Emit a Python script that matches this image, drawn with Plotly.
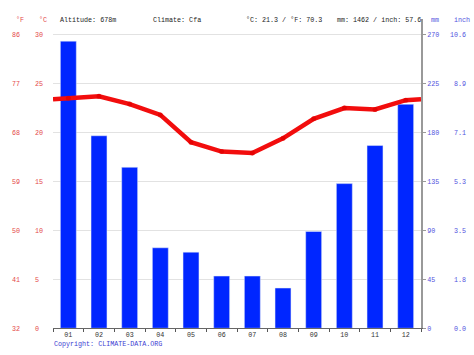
import plotly.graph_objects as go

months = ["01", "02", "03", "04", "05", "06", "07", "08", "09", "10", "11", "12"]
precip_mm = [264, 177, 148, 74, 70, 48, 48, 37, 89, 133, 168, 206]
temp_c = [23.5, 23.7, 22.9, 21.8, 19.0, 18.05, 17.9, 19.4, 21.4, 22.5, 22.35, 23.3]
c_ticks = [0, 5, 10, 15, 20, 25, 30]
f_ticks = [32, 41, 50, 59, 68, 77, 86]
mm_ticks = [0, 45, 90, 135, 180, 225, 270]
inch_labels = [f"{v / 25.4:.1f}" for v in mm_ticks]

header_left = "Altitude: 678m"
header_climate = "Climate: Cfa"
header_temp = "°C: 21.3 / °F: 70.3"
header_precip = "mm: 1462 / inch: 57.6"

W, H = 474, 355
PL, PR, PT, PB, PTOP = 53, 421, 35, 332, 19
ext = (PB - PTOP) / (PB - PT)

xs = list(range(1, 13))
edge = (temp_c[0] + temp_c[-1]) / 2
line_x = [0.5] + xs + [12.5]
line_y = [edge] + temp_c + [edge]
msize = [0] + [5] * 12 + [0]

MONO = "Liberation Mono, DejaVu Sans Mono, monospace"
FS = 6.7
RED = "rgb(228,72,72)"
BLUE = "rgb(82,82,222)"

fig = go.Figure()
fig.add_trace(go.Bar(x=xs, y=precip_mm, marker_color="#0026ff", width=0.52,
                     yaxis="y", showlegend=False, hoverinfo="skip"))
fig.add_trace(go.Scatter(x=line_x, y=line_y, mode="lines+markers", yaxis="y2",
                         line=dict(color="#f20d0d", width=4.5),
                         marker=dict(size=msize, color="#e00000", line=dict(width=0)),
                         showlegend=False, hoverinfo="skip"))
fig.add_trace(go.Scatter(x=[None], y=[None], yaxis="y3", showlegend=False))
fig.add_trace(go.Scatter(x=[None], y=[None], yaxis="y4", showlegend=False))

ydom = [(H - PB) / H, (H - PTOP) / H]
fig.update_layout(
    width=W, height=H, autosize=False,
    margin=dict(l=0, r=0, t=0, b=0),
    paper_bgcolor="white", plot_bgcolor="white",
    font=dict(family=MONO, size=FS),
    xaxis=dict(domain=[PL / W, PR / W], range=[0.5, 12.5],
               tickvals=xs, ticktext=months, ticks="",
               tickfont=dict(color="#333", size=FS, family=MONO),
               showline=True, linecolor="#666", linewidth=1,
               showgrid=False, zeroline=False,
               minor=dict(ticks="outside", tick0=0.5, dtick=1, ticklen=3, tickcolor="#555")),
    yaxis=dict(domain=ydom, side="right", range=[0, 270 * ext],
               tickvals=mm_ticks, ticks="outside", ticklen=3, tickcolor="#999",
               showline=True, linecolor="#999", linewidth=2,
               showgrid=True, gridcolor="#e2e2e2", gridwidth=1, zeroline=False,
               tickfont=dict(color=BLUE, size=FS, family=MONO)),
    yaxis2=dict(overlaying="y", anchor="free", side="right", position=34 / W,
                range=[0, 30 * ext], tickvals=c_ticks,
                showgrid=False, zeroline=False, showline=False, ticks="",
                tickfont=dict(color=RED, size=FS, family=MONO)),
    yaxis3=dict(overlaying="y", anchor="free", side="right", position=11 / W,
                range=[32, 32 + 54 * ext], tickvals=f_ticks,
                showgrid=False, zeroline=False, showline=False, ticks="",
                tickfont=dict(color=RED, size=FS, family=MONO)),
    yaxis4=dict(overlaying="y", anchor="free", side="left", position=466 / W,
                range=[0, 270 * ext], tickvals=mm_ticks,
                ticktext=inch_labels,
                showgrid=False, zeroline=False, showline=False, ticks="",
                tickfont=dict(color=BLUE, size=FS, family=MONO)),
)

def ann(text, x, y, color, xanchor="left"):
    fig.add_annotation(text=text, x=x / W, y=1 - y / H, xref="paper", yref="paper",
                       xanchor=xanchor, yanchor="middle", showarrow=False,
                       font=dict(family=MONO, size=FS, color=color))

ann("°F", 14, 20, RED)
ann("°C", 37, 20, RED)
ann("mm", 429, 20, BLUE)
ann("inch", 452, 20, BLUE)
ann(header_left, 58, 20, "#222")
ann(header_climate, 151, 20, "#222")
ann(header_temp, 244, 20, "#222")
ann(header_precip, 335, 20, "#222")
ann("Copyright: CLIMATE-DATA.ORG", 52, 348, "rgb(60,60,210)")

fig.write_html("out.html", config={"displayModeBar": False, "responsive": False},
               post_script="document.body.style.margin='0';document.body.style.overflow='hidden';")
